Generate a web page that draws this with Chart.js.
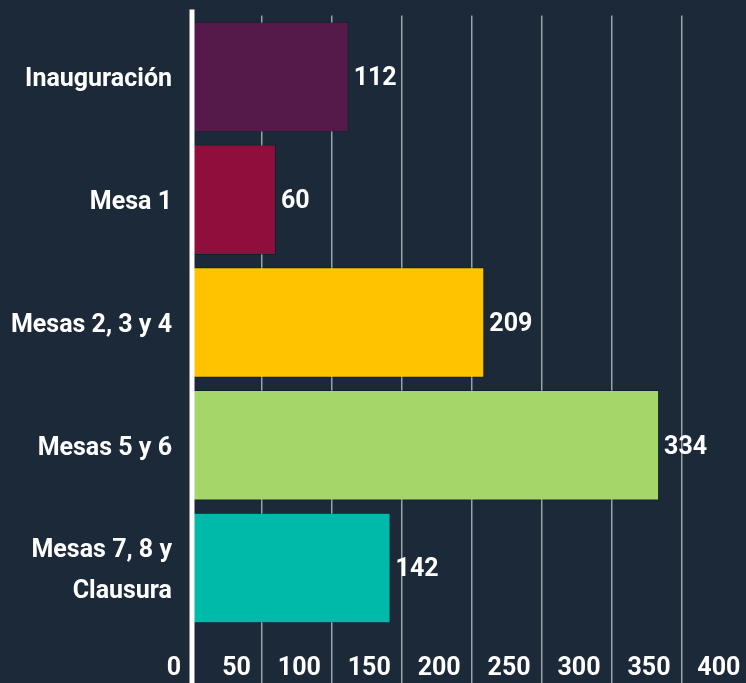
<!DOCTYPE html>
<html>
<head>
<meta charset="utf-8">
<script src="https://cdn.jsdelivr.net/npm/chart.js@4"></script>
<style>
  html, body { margin: 0; padding: 0; background: #1b2938; overflow: hidden; }
  #wrap { width: 756px; height: 683px; position: relative; }
</style>
</head>
<body>
<div id="wrap"><canvas id="sessions"></canvas></div>
<script>
const categories = ['Inauguración', 'Mesa 1', 'Mesas 2, 3 y 4', 'Mesas 5 y 6', ['Mesas 7, 8 y', 'Clausura']];
const attendees = [112, 60, 209, 334, 142];
const barColors = ['#551a4a', '#8f0e3b', '#ffc300', '#a5d66a', '#00baa9'];
const xTicks = [0, 50, 100, 150, 200, 250, 300, 350, 400];

const FONT = 'Roboto';
const WEIGHT = 'bold';

// white zero line, runs past the plot area like in the original
const zeroLine = {
    id: 'zeroLine',
    afterDatasetsDraw(chart) {
        const ctx = chart.ctx;
        const x = chart.scales.x.getPixelForValue(0);
        ctx.save();
        ctx.strokeStyle = '#ffffff';
        ctx.lineWidth = 5;
        ctx.beginPath();
        ctx.moveTo(x, chart.chartArea.top - 6);
        ctx.lineTo(x, chart.height);
        ctx.stroke();
        ctx.restore();
    }
};

// numbers at the end of each bar
const valueLabels = {
    id: 'valueLabels',
    afterDatasetsDraw(chart) {
        const ctx = chart.ctx;
        const meta = chart.getDatasetMeta(0);
        ctx.save();
        ctx.fillStyle = '#ffffff';
        ctx.font = WEIGHT + ' 25px ' + FONT;
        ctx.textAlign = 'left';
        ctx.textBaseline = 'middle';
        meta.data.forEach((bar, i) => {
            ctx.fillText(String(attendees[i]), bar.x + 5, bar.y + 2);
        });
        ctx.restore();
    }
};

new Chart('sessions', {
    type: 'bar',
    data: {
        labels: categories,
        datasets: [
            {
                data: attendees,
                backgroundColor: barColors,
                borderColor: 'rgba(0,0,0,0.25)',
                borderWidth: 1,
                categoryPercentage: 1,
                barPercentage: 0.9,
            }
        ],
    },
    options: {
        indexAxis: 'y',
        responsive: true,
        maintainAspectRatio: false,
        animation: false,
        layout: {
            padding: { top: 15.5, right: 4.6, left: 0, bottom: 0 }
        },
        plugins: {
            legend: { display: false },
            tooltip: { enabled: false }
        },
        scales: {
            x: {
                min: 0,
                max: 400,
                afterBuildTicks: scale => {
                    scale.ticks = xTicks.map(v => ({ value: v }));
                },
                afterFit: scale => {
                    scale.height = 53.5;
                    scale.paddingLeft = 0;
                    scale.paddingRight = 0;
                },
                grid: {
                    color: '#9ca2aa',
                    lineWidth: 1.5,
                    drawTicks: true,
                    tickLength: 54,
                },
                border: { display: false },
                ticks: {
                    color: '#ffffff',
                    align: 'end',
                    labelOffset: -11,
                    padding: -30,
                    font: { family: FONT, size: 25, weight: WEIGHT }
                }
            },
            y: {
                afterFit: scale => {
                    scale.width = 192;
                    scale.paddingTop = 0;
                    scale.paddingBottom = 0;
                },
                grid: { display: false, drawTicks: false },
                border: { display: false },
                ticks: {
                    color: '#ffffff',
                    padding: 20,
                    labelOffset: 3,
                    font: { family: FONT, size: 25, weight: WEIGHT, lineHeight: 1.65 }
                }
            }
        }
    },
    plugins: [zeroLine, valueLabels]
});
</script>
</body>
</html>
